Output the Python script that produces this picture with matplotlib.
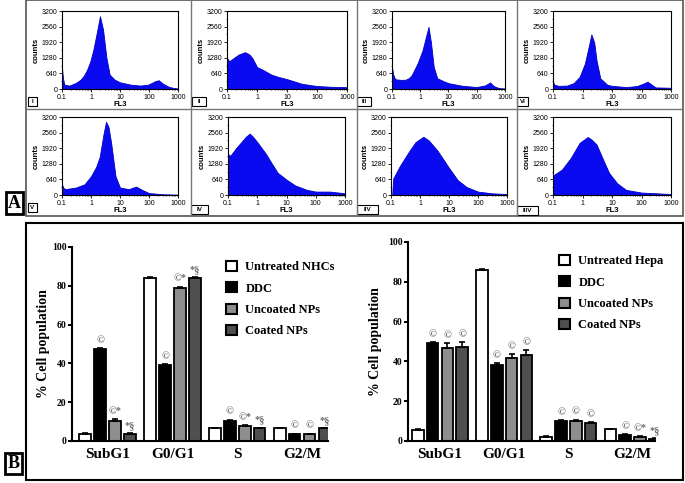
import numpy as np
import matplotlib
matplotlib.use('Agg')
import matplotlib.pyplot as plt
from matplotlib.patches import Rectangle, Patch
from matplotlib.ticker import LogLocator, MultipleLocator, NullFormatter

W, H = 685, 483

# ---- flow cytometry histograms (FL3 vs counts) ----
fl3_I = [0.1, 0.108, 0.12, 0.18, 0.3, 0.44, 0.57, 0.74, 0.95, 1.2, 1.58, 2.04, 2.6, 3.4, 4.4, 6.5, 10, 23, 50, 95, 160, 215, 300, 500, 850, 1000]
counts_I = [865, 450, 180, 140, 250, 385, 550, 800, 1140, 1600, 2300, 2990, 2440, 1280, 590, 385, 275, 180, 140, 180, 315, 360, 220, 80, 30, 20]

fl3_II = [0.1, 0.12, 0.18, 0.25, 0.4, 0.55, 0.7, 1.0, 1.5, 2, 3, 5, 10, 20, 30, 60, 100, 300, 1000]
counts_II = [1270, 1140, 1300, 1420, 1510, 1420, 1270, 900, 800, 713, 590, 500, 405, 290, 220, 160, 123, 90, 74]

fl3_III = [0.1, 0.11, 0.13, 0.2, 0.3, 0.4, 0.5, 0.8, 1.2, 1.6, 1.96, 2.4, 3.0, 4.0, 7, 10, 30, 100, 200, 295, 400, 600, 1000]
counts_III = [900, 600, 400, 375, 380, 450, 575, 1045, 1580, 2150, 2550, 1900, 900, 440, 310, 240, 135, 80, 150, 270, 120, 40, 20]

fl3_VI = [0.1, 0.11, 0.15, 0.3, 0.5, 0.8, 1.2, 1.6, 2.0, 2.5, 3.0, 4.0, 7, 10, 30, 70, 120, 160, 220, 300, 1000]
counts_VI = [300, 180, 130, 140, 240, 500, 1040, 1700, 2240, 1900, 1170, 440, 170, 130, 80, 120, 230, 300, 180, 65, 50]

fl3_V = [0.1, 0.11, 0.13, 0.3, 0.6, 1.0, 1.5, 2.0, 2.7, 3.3, 4.0, 5.0, 7, 10, 20, 36, 60, 100, 300, 1000]
counts_V = [440, 300, 240, 305, 440, 770, 1150, 1570, 2500, 3000, 2800, 2100, 770, 305, 240, 345, 200, 80, 30, 15]

fl3_IV = [0.1, 0.12, 0.2, 0.3, 0.4, 0.55, 0.7, 1.0, 2, 3, 5, 10, 20, 50, 100, 300, 1000]
counts_IV = [1680, 1610, 1960, 2200, 2380, 2520, 2400, 2170, 1680, 1330, 910, 630, 390, 210, 140, 140, 70]

fl3_IIV = [0.11, 0.115, 0.12, 0.2, 0.4, 0.7, 1.3, 2, 4, 7, 10, 20, 40, 100, 300, 1000]
counts_IIV = [0, 400, 680, 1180, 1750, 2170, 2390, 2240, 1820, 1390, 1110, 610, 330, 140, 70, 40]

fl3_IIIV = [0.1, 0.2, 0.4, 0.8, 1.5, 2, 3, 5, 8, 15, 30, 100, 1000]
counts_IIIV = [800, 1040, 1520, 2140, 2380, 2280, 2070, 1450, 900, 480, 210, 100, 40]

count_ticks = [0, 640, 1280, 1920, 2560, 3200]
fl3_ticks = [0.1, 1, 10, 100, 1000]
fl3_ticklabels = ['0.1', '1', '10', '100', '1000']

# ---- cell cycle bar charts ----
phases = ['SubG1', 'G0/G1', 'S', 'G2/M']
nhc_groups = ['Untreated NHCs', 'DDC', 'Uncoated NPs', 'Coated NPs']
hepa_groups = ['Untreated Hepa', 'DDC', 'Uncoated NPs', 'Coated NPs']

nhc_untreated = [3.5, 84, 6.5, 6.5]
nhc_ddc = [47.5, 39, 10.5, 3.5]
nhc_uncoated = [10.5, 79, 7.5, 3.5]
nhc_coated = [3.5, 84, 6.5, 6.5]
nhc_err = [[0.4, 0.4, 0.4, 0.3], [0.5, 0.5, 0.5, 0.3], [0.6, 0.6, 0.5, 0.3], [0.4, 0.6, 0.4, 0.3]]
nhc_marks = [['', '', '', ''], ['©', '©', '©', '©'], ['©*', '©*', '©*', '©'], ['*§', '*§', '*§', '*§']]

hepa_untreated = [5.5, 86, 2.2, 6.0]
hepa_ddc = [49, 38, 10, 3.0]
hepa_uncoated = [46.5, 41.5, 10.2, 2.0]
hepa_coated = [47, 43, 8.8, 1.2]
hepa_err = [[0.3, 0.3, 0.2, 0.2], [0.8, 1.0, 0.5, 0.3], [2.5, 2.2, 0.6, 0.3], [2.5, 2.5, 0.5, 0.3]]
hepa_marks = [['', '', '', ''], ['©', '©', '©', '©'], ['©', '©', '©', '©*'], ['©', '©', '©', '*§']]

bar_faces = ['white', 'black', '#8e8e8e', '#4f4f4f']


def px_axes(fig, l, t, r, b):
    return fig.add_axes([l / W, 1 - b / H, (r - l) / W, (b - t) / H])


def px_rect(fig, l, t, r, b, **kw):
    fig.add_artist(Rectangle((l / W, 1 - b / H), (r - l) / W, (b - t) / H,
                             transform=fig.transFigure, fill=False, **kw))


def draw_hist(fig, box, x, y, label, label_box):
    ax = px_axes(fig, *box)
    ax.fill_between(x, 0, y, color='#0a0af0', lw=0.6, edgecolor='#0000c8')
    ax.set_xscale('log')
    ax.set_xlim(0.1, 1000)
    ax.set_ylim(0, 3200)
    ax.set_xticks(fl3_ticks)
    ax.set_xticklabels(fl3_ticklabels)
    ax.xaxis.set_minor_locator(LogLocator(base=10, subs=np.arange(2, 10)))
    ax.xaxis.set_minor_formatter(NullFormatter())
    ax.set_yticks(count_ticks)
    ax.yaxis.set_minor_locator(MultipleLocator(320))
    ax.tick_params(labelsize=5, length=2, width=0.6, pad=1.5)
    ax.tick_params(which='minor', length=1, width=0.5)
    for s in ax.spines.values():
        s.set_linewidth(0.8)
    ax.set_xlabel('FL3', fontsize=5.5, fontweight='bold', labelpad=0)
    ax.set_ylabel('counts', fontsize=5.5, fontweight='bold', labelpad=1)
    l, t, r, b = label_box
    fig.text((l + r) / 2 / W, 1 - (t + b) / 2 / H, label, fontsize=4.5, fontweight='bold',
             ha='center', va='center')
    px_rect(fig, l, t, r, b, lw=0.8, edgecolor='black')


def draw_bars(fig, box, xlim, groups, series, errs, marks, legend_anchor, ypad):
    ax = px_axes(fig, *box)
    x = np.arange(len(phases))
    step, width = 0.23, 0.18
    for i, vals in enumerate(series):
        xs = x + (i - 1.5) * step
        ax.bar(xs, vals, width, color=bar_faces[i], edgecolor='black', lw=1.3, label=groups[i], zorder=2)
        ax.errorbar(xs, vals, yerr=[np.zeros(len(vals)), errs[i]], fmt='none', ecolor='black',
                    elinewidth=1.2, capsize=2.5, capthick=1.2, zorder=3)
        for xx, v, e, m in zip(xs, vals, errs[i], marks[i]):
            if m:
                ax.text(xx, v + e + 1.5, m, ha='center', va='bottom', fontsize=7.5,
                        fontweight='bold', color='#6a6a6a', family='Liberation Serif')
    ax.set_xlim(*xlim)
    ax.set_ylim(0, 100)
    ax.set_yticks([0, 20, 40, 60, 80, 100])
    ax.set_xticks(x)
    ax.set_xticklabels(phases, fontsize=11, fontweight='bold', family='Liberation Serif')
    ax.tick_params(axis='x', length=0, pad=5)
    ax.tick_params(axis='y', length=3, width=1.4, pad=1)
    for t in ax.get_yticklabels():
        t.set_fontsize(7)
        t.set_fontweight('bold')
        t.set_family('Liberation Serif')
    for s in ['top', 'right']:
        ax.spines[s].set_visible(False)
    ax.spines['left'].set_linewidth(1.5)
    ax.spines['bottom'].set_linewidth(1.5)
    ax.set_ylabel('% Cell population', fontsize=10, fontweight='bold', family='Liberation Serif',
                  labelpad=ypad)
    handles = [Patch(facecolor=bar_faces[i], edgecolor='black', lw=1.5) for i in range(4)]
    ax.legend(handles, groups, loc='upper left', bbox_to_anchor=legend_anchor,
              bbox_transform=fig.transFigure, frameon=False, borderpad=0, borderaxespad=0,
              handlelength=0.85, handleheight=0.85, handletextpad=0.7, labelspacing=0.72,
              prop={'family': 'Liberation Serif', 'weight': 'bold', 'size': 9})
    return ax


def main():
    plt.rcParams['font.family'] = ['Liberation Sans', 'DejaVu Sans']
    fig = plt.figure(figsize=(W / 100, H / 100), dpi=100)

    # panel A grid of cells
    px_rect(fig, 26, 0.5, 683, 216, lw=1.2, edgecolor='#555555')
    for xv in [191, 357, 517]:
        fig.add_artist(plt.Line2D([xv / W, xv / W], [1 - 216 / H, 1], transform=fig.transFigure,
                                  color='#777777', lw=1))
    fig.add_artist(plt.Line2D([26 / W, 683 / W], [1 - 109 / H, 1 - 109 / H], transform=fig.transFigure,
                              color='#777777', lw=1))

    panels = [
        (fl3_I, counts_I, 'I', (62, 11, 178, 89), (28, 97, 37, 106)),
        (fl3_II, counts_II, 'II', (227, 11, 347, 89), (192, 97, 206, 106)),
        (fl3_III, counts_III, 'III', (392, 11, 505, 89), (357, 97, 371, 106)),
        (fl3_VI, counts_VI, 'VI', (553, 11, 671, 89), (517, 97, 528, 106)),
        (fl3_V, counts_V, 'V', (62, 117, 178, 195), (28, 203, 37, 212)),
        (fl3_IV, counts_IV, 'IV', (228, 117, 345, 195), (191, 205, 208, 214)),
        (fl3_IIV, counts_IIV, 'IIV', (391, 117, 507, 195), (357, 205, 378, 214)),
        (fl3_IIIV, counts_IIIV, 'IIIV', (553, 117, 671, 195), (517, 206, 538, 215)),
    ]
    for x, y, lab, box, lbox in panels:
        draw_hist(fig, box, x, y, lab, lbox)

    # panel B frame
    px_rect(fig, 26, 223, 683, 480, lw=1.5, edgecolor='black')

    draw_bars(fig, (72, 247, 328, 441), (-0.55, 3.4), nhc_groups,
              [nhc_untreated, nhc_ddc, nhc_uncoated, nhc_coated], nhc_err, nhc_marks,
              (226 / W, 1 - 261 / H), 1)
    draw_bars(fig, (408, 242, 655, 441), (-0.5, 3.35), hepa_groups,
              [hepa_untreated, hepa_ddc, hepa_uncoated, hepa_coated], hepa_err, hepa_marks,
              (559 / W, 1 - 255 / H), 4)

    # panel letters
    for letter, (l, t, r, b) in [('A', (6, 192, 23, 214)), ('B', (5, 453, 22, 474))]:
        fig.text((l + r) / 2 / W, 1 - (t + b) / 2 / H, letter, fontsize=13, fontweight='bold',
                 family='Liberation Serif', ha='center', va='center')
        px_rect(fig, l, t, r, b, lw=2, edgecolor='black')

    fig.savefig('out.png', dpi=100)


if __name__ == "__main__":
    main()
